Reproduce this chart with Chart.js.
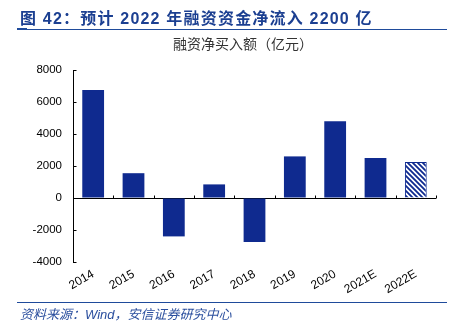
<!DOCTYPE html>
<html>
<head>
<meta charset="utf-8">
<script src="https://cdn.jsdelivr.net/npm/chart.js@4"></script>
<style>
  html, body { margin: 0; padding: 0; background: #fff; }
  #wrap { position: relative; width: 455px; height: 329px; overflow: hidden; }
  #chart { position: absolute; left: 0; top: 0; }
  .title {
    position: absolute; left: 20px; top: 5px; white-space: nowrap;
    font: bold 16px "Liberation Sans", "Noto Sans CJK SC", sans-serif;
    letter-spacing: 1.2px; color: #1b3f91;
  }
  .rule { position: absolute; left: 17px; width: 430px; height: 1px; background: #1f4b9b; }
  .rule-mark { position: absolute; left: 17px; width: 10px; height: 2px; background: #1f4b9b; }
  .subtitle {
    position: absolute; left: 0; width: 486px; top: 33px; text-align: center;
    font: 14px "Noto Sans CJK SC", sans-serif; color: #333;
  }
  .source {
    position: absolute; left: 20px; top: 304px; white-space: nowrap;
    font: italic 13px "Liberation Sans", "Noto Sans CJK SC", sans-serif; color: #2b4f9e;
  }
</style>
</head>
<body>
<div id="wrap">
  <canvas id="chart" width="455" height="329"></canvas>
  <div class="title">图 42：预计 2022 年融资资金净流入 2200 亿</div>
  <div class="rule-mark" style="top:28px"></div>
  <div class="rule" style="top:29px"></div>
  <div class="subtitle">融资净买入额（亿元）</div>
  <div class="rule" style="top:302px"></div>
  <div class="source">资料来源：Wind，安信证券研究中心</div>
</div>
<script>
// data
const years = ['2014', '2015', '2016', '2017', '2018', '2019', '2020', '2021E', '2022E'];
const netBuy = [6750, 1550, -2400, 850, -2750, 2600, 4800, 2500, 2250];
const yMin = -4000;
const yMax = 8000;
const yStep = 2000;

const NAVY = '#0f2a8f';

// diagonal hatch for the forecast bar
function makeHatch() {
  const c = document.createElement('canvas');
  c.width = 5; c.height = 5;
  const g = c.getContext('2d');
  g.fillStyle = '#fff';
  g.fillRect(0, 0, 5, 5);
  g.strokeStyle = NAVY;
  g.lineWidth = 1.8;
  g.beginPath();
  g.moveTo(-1, -1); g.lineTo(6, 6);
  g.moveTo(-1, 4); g.lineTo(1, 6);
  g.moveTo(4, -1); g.lineTo(6, 1);
  g.stroke();
  return g.createPattern(c, 'repeat');
}
const hatch = makeHatch();

// inward ticks on the y axis + category ticks on the zero line
const axisTicks = {
  id: 'axisTicks',
  afterDatasetsDraw(chart) {
    const { ctx, scales: { x, y } } = chart;
    ctx.save();
    ctx.strokeStyle = '#000';
    ctx.lineWidth = 1;
    ctx.beginPath();
    const left = Math.round(y.left + y.width) + 0.5;
    y.ticks.forEach(t => {
      const py = Math.round(y.getPixelForValue(t.value)) + 0.5;
      ctx.moveTo(left, py);
      ctx.lineTo(left + 3, py);
    });
    const y0 = Math.round(y.getPixelForValue(0)) + 0.5;
    const half = (x.getPixelForValue(1) - x.getPixelForValue(0)) / 2;
    for (let i = 0; i < years.length; i++) {
      const px = Math.round(x.getPixelForValue(i) + half) + 0.5;
      ctx.moveTo(px, y0 - 3);
      ctx.lineTo(px, y0);
    }
    ctx.stroke();
    ctx.restore();
  }
};

new Chart(document.getElementById('chart'), {
  type: 'bar',
  data: {
    labels: years,
    datasets: [{
      data: netBuy,
      backgroundColor: years.map((_, i) => i === years.length - 1 ? hatch : NAVY),
      borderColor: NAVY,
      borderWidth: years.map((_, i) => i === years.length - 1 ? 1 : 0),
      barPercentage: 0.54,
      categoryPercentage: 1
    }]
  },
  options: {
    responsive: false,
    animation: false,
    layout: { padding: { top: 70, right: 19, bottom: 0, left: 0 } },
    plugins: { legend: { display: false }, tooltip: { enabled: false } },
    scales: {
      x: {
        grid: { display: false, drawTicks: false },
        border: { display: false },
        ticks: {
          color: '#000',
          font: { family: 'Liberation Sans', size: 12 },
          maxRotation: 30, minRotation: 30,
          padding: 5
        },
        afterFit(scale) { scale.height = 67; }
      },
      y: {
        min: yMin, max: yMax,
        grid: {
          drawTicks: false,
          color: c => c.tick && c.tick.value === 0 ? '#000' : 'rgba(0,0,0,0)'
        },
        border: { display: true, color: '#000', width: 1 },
        ticks: {
          stepSize: yStep,
          color: '#000',
          font: { family: 'Liberation Sans', size: 11.5 },
          padding: 11,
          callback: v => String(v)
        },
        afterFit(scale) { scale.width = 73; }
      }
    }
  },
  plugins: [axisTicks]
});
</script>
</body>
</html>
